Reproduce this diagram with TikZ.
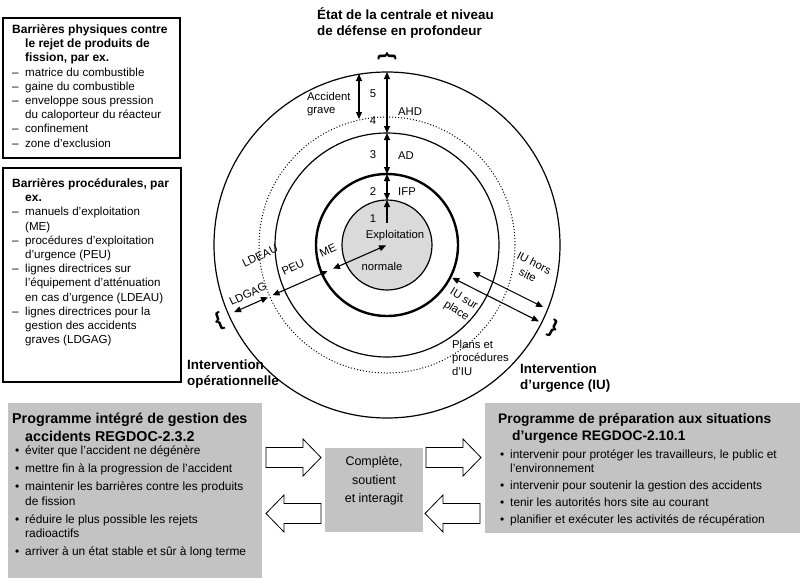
\documentclass[tikz,border=0pt]{standalone}
\usepackage{fontspec}
\setmainfont{Liberation Sans}
\usetikzlibrary{arrows.meta,calc,positioning}
\definecolor{boxgray}{RGB}{195,195,195}
\definecolor{coregray}{RGB}{218,218,218}
\newcommand{\tiret}{\makebox[13pt][l]{–}}
\newcommand{\puce}{\makebox[10pt][l]{•}}

\begin{document}
\begin{tikzpicture}[x=1pt,y=-1pt]
    \tikzset{
        ring/.style={line width=1.2pt},
        lvl/.style={line width=1.1pt,{Triangle[length=7pt,width=6pt]}-{Triangle[length=7pt,width=6pt]}},
        lbl/.style={font=\fontsize{11.3}{12.5}\selectfont,inner sep=0pt},
        head/.style={font=\fontsize{13.4}{16}\selectfont\bfseries,align=left,inner sep=0pt,anchor=north west},
        listtxt/.style={font=\fontsize{11.6}{14.2}\selectfont,align=left,inner sep=0pt,anchor=north west},
        bullets/.style={font=\fontsize{11.9}{14.5}\selectfont,align=left,inner sep=0pt,anchor=north west},
        progtitle/.style={font=\fontsize{14.3}{17.5}\selectfont\bfseries,align=left,inner sep=0pt,anchor=north west},
        brace/.style={font=\fontsize{20}{20}\selectfont\bfseries,inner sep=0pt}}
    \def\fatarrow{(0,-10) -- (37,-10) -- (37,-18.5) -- (55,0) -- (37,18.5) -- (37,10) -- (0,10) -- cycle}
    \useasboundingbox (0,0) rectangle (800,578);

    \coordinate (c) at (387,245);
    \fill[coregray] (c) circle[radius=45pt];
    \draw[ring] (c) circle[radius=45pt];
    \draw[line width=2.4pt] (c) circle[radius=71pt];
    \draw[ring] (c) circle[radius=112pt];
    \draw[dotted,line width=1pt] (c) circle[radius=128pt];
    \draw[ring] (c) circle[radius=173pt];

    \coordinate (o5) at ($(c)+(-90:173)$);
    \coordinate (o3) at ($(c)+(-90:112)$);
    \coordinate (o2) at ($(c)+(-90:71)$);
    \coordinate (o1) at ($(c)+(-90:45)$);
    \coordinate (o0) at (387,223);
    \coordinate (ag5) at (359,74);
    \coordinate (ag4) at (359,119);
    \draw[lvl] (o5) -- (o3);
    \draw[lvl] (o3) -- (o2);
    \draw[lvl] (o2) -- (o1);
    \draw[line width=1.1pt,-{Triangle[length=7pt,width=6pt]}] (o0) -- (o1);
    \draw[lvl] (ag5) -- (ag4);

    \coordinate (me1) at ($(c)+(156.3:1)$);
    \coordinate (me2) at ($(c)+(156.3:59)$);
    \coordinate (peu1) at ($(c)+(156.3:65)$);
    \coordinate (peu2) at ($(c)+(156.3:125)$);
    \coordinate (ldg1) at ($(c)+(156.3:130)$);
    \coordinate (ldg2) at ($(c)+(156.3:167)$);
    \draw[lvl] (me1) -- (me2);
    \draw[lvl] (peu1) -- (peu2);
    \draw[lvl] (ldg1) -- (ldg2);

    \coordinate (sp1) at ($(c)+(26.7:73)$);
    \coordinate (sp2) at ($(c)+(26.7:170)$);
    \coordinate (hs1) at (473,272);
    \coordinate (hs2) at (543,307);
    \draw[lvl] (sp1) -- (sp2);
    \draw[lvl] (hs1) -- (hs2);

    \node[lbl] (n5) at (373,94) {5};
    \node[lbl] (n4) at (373,121) {4};
    \node[lbl] (n3) at (373,155) {3};
    \node[lbl] (n2) at (373,192) {2};
    \node[lbl] (n1) at (373,219) {1};
    \node[lbl,anchor=west] (ahd) at (398,112) {AHD};
    \node[lbl,anchor=west] (ad) at (398,156) {AD};
    \node[lbl,anchor=west] (ifp) at (398,192) {IFP};
    \node[lbl,align=left,anchor=west] (grave) at (307,104) {Accident\\grave};
    \node[lbl] (expl) at (395,236) {Exploitation};
    \node[lbl] (norm) at (382,266) {normale};
    \node[lbl,rotate=25] (ldeau) at (260,256) {LDEAU};
    \node[lbl,rotate=25] (peu) at (293,267) {PEU};
    \node[lbl,rotate=25] (me) at (328,250) {ME};
    \node[lbl,rotate=25] (ldgag) at (248,294) {LDGAG};
    \node[lbl,rotate=-32,align=center,font=\fontsize{11.3}{14}\selectfont] (surplace) at (460,305) {IU sur\\place};
    \node[lbl,rotate=-27,align=center,font=\fontsize{11.3}{14}\selectfont] (horssite) at (531,269) {IU hors\\site};
    \node[lbl,align=left,anchor=north west,font=\fontsize{11.3}{13.5}\selectfont] (plans) at (452,340) {Plans et\\procédures\\d’IU};

    \node[brace,rotate=-90] (btop) at (387,56) {\{};
    \node[brace,rotate=20] (bleft) at (219,321) {\{};
    \node[brace,rotate=-27] (bright) at (553,329) {\}};

    \node[head] (etat) at (317,7) {État de la centrale et niveau\\de défense en profondeur};
    \node[head] (interop) at (187,360) {Intervention\\opérationnelle};
    \node[head] (interurg) at (520,364) {Intervention\\d’urgence (IU)};

    \draw[line width=1.2pt] (3,18) rectangle (180,158);
    \node[listtxt] (physique) at (12,24.5) {\textbf{\fontsize{12}{14.2}\selectfont Barrières physiques contre}\\
        \textbf{\fontsize{12}{14.2}\selectfont\hspace*{13pt}le rejet de produits de}\\
        \textbf{\fontsize{12}{14.2}\selectfont\hspace*{13pt}fission, par ex.}\\
        \tiret matrice du combustible\\
        \tiret gaine du combustible\\
        \tiret enveloppe sous pression\\
        \hspace*{13pt}du caloporteur du réacteur\\
        \tiret confinement\\
        \tiret zone d’exclusion};

    \draw[line width=1.2pt] (3,168) rectangle (181,382);
    \node[listtxt] (procedure) at (12,178.5) {\textbf{\fontsize{12}{14.2}\selectfont Barrières procédurales, par}\\
        \textbf{\fontsize{12}{14.2}\selectfont\hspace*{13pt}ex.}\\
        \tiret manuels d’exploitation\\
        \hspace*{13pt}(ME)\\
        \tiret procédures d’exploitation\\
        \hspace*{13pt}d’urgence (PEU)\\
        \tiret lignes directrices sur\\
        \hspace*{13pt}l’équipement d’atténuation\\
        \hspace*{13pt}en cas d’urgence (LDEAU)\\
        \tiret lignes directrices pour la\\
        \hspace*{13pt}gestion des accidents\\
        \hspace*{13pt}graves (LDGAG)};

    \fill[boxgray] (8,403) rectangle (262,578);
    \node[progtitle] (pigatitre) at (12,413) {Programme intégré de gestion des\\\hspace*{13pt}accidents REGDOC-2.3.2};
    \node[bullets] (pigaliste) at (15,446) {\puce éviter que l'accident ne dégénère\\[3.5pt]
        \puce mettre fin à la progression de l’accident\\[3.5pt]
        \puce maintenir les barrières contre les produits\\
        \hspace*{10pt}de fission\\[3.5pt]
        \puce réduire le plus possible les rejets\\
        \hspace*{10pt}radioactifs\\[3.5pt]
        \puce arriver à un état stable et sûr à long terme};

    \fill[boxgray] (485,403) rectangle (800,533);
    \node[progtitle,font=\fontsize{13.8}{17.5}\selectfont\bfseries] (psutitre) at (498,413) {Programme de préparation aux situations\\\hspace*{14pt}d’urgence REGDOC-2.10.1};
    \node[bullets,font=\fontsize{11.9}{14}\selectfont] (psuliste) at (500,450) {\puce intervenir pour protéger les travailleurs, le public et\\
        \hspace*{10pt}l’environnement\\[3pt]
        \puce intervenir pour soutenir la gestion des accidents\\[3pt]
        \puce tenir les autorités hors site au courant\\[3pt]
        \puce planifier et exécuter les activités de récupération};

    \node[fill=boxgray,minimum width=98pt,minimum height=84pt,inner sep=0pt] (cpl) at (374,490) {};
    \node[align=center,inner sep=0pt,font=\fontsize{12.5}{18.5}\selectfont] (cpltxt) at (374,481) {Complète,\\soutient\\et interagit};

    \draw[line width=0.8pt,fill=white,shift={(266,457.5)}] \fatarrow;
    \draw[line width=0.8pt,fill=white,shift={(426,457.5)}] \fatarrow;
    \begin{scope}[shift={(321,513.5)},xscale=-1]
        \draw[line width=0.8pt,fill=white] \fatarrow;
    \end{scope}
    \begin{scope}[shift={(480,513.5)},xscale=-1]
        \draw[line width=0.8pt,fill=white] \fatarrow;
    \end{scope}
\end{tikzpicture}
\end{document}
